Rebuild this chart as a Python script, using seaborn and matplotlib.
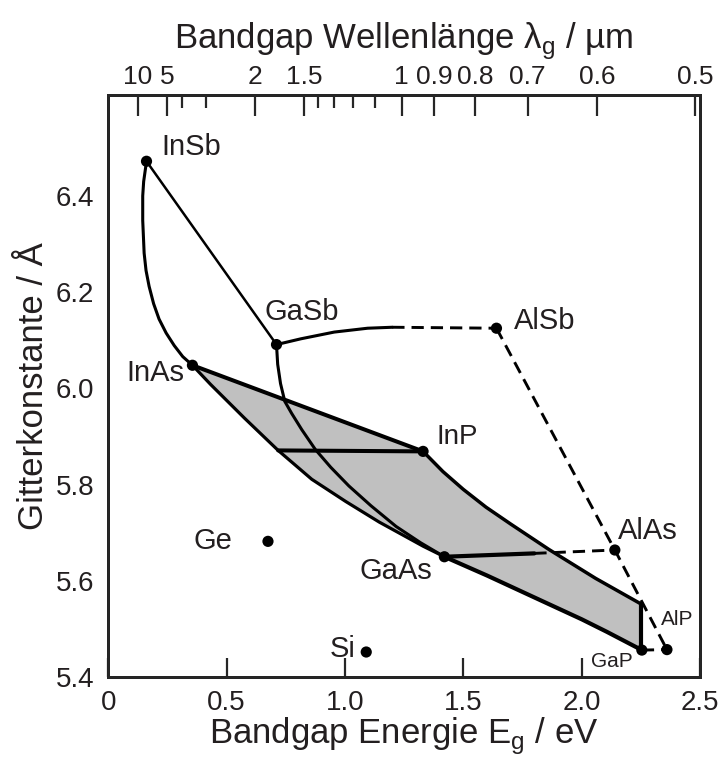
import numpy as np
import matplotlib
matplotlib.use("Agg")
import matplotlib.pyplot as plt
import seaborn as sns

sns.set_style("white")
plt.rcParams['font.family'] = ['Liberation Sans', 'DejaVu Sans']
plt.rcParams['mathtext.fontset'] = 'custom'
plt.rcParams['mathtext.rm'] = 'Liberation Sans'

# Verbindungen: Bandgap (eV) und Gitterkonstante (Angstrom)
names = ['InSb', 'GaSb', 'AlSb', 'InAs', 'InP', 'GaAs', 'AlAs', 'GaP', 'AlP', 'Ge', 'Si']
energy = [0.162, 0.711, 1.64, 0.356, 1.33, 1.42, 2.14, 2.254, 2.36, 0.675, 1.09]
lattice = [6.472, 6.091, 6.125, 6.048, 5.869, 5.65, 5.664, 5.456, 5.457, 5.682, 5.452]

# Beschriftungen (x, y, ha, Schriftgroesse)
label_x = [0.223, 0.659, 1.715, 0.321, 1.386, 1.063, 2.153, 2.04, 2.334, 0.361, 1.046]
label_y = [6.502, 6.159, 6.141, 6.031, 5.898, 5.621, 5.704, 5.432, 5.52, 5.683, 5.459]
label_ha = ['left', 'left', 'left', 'right', 'left', 'left', 'left', 'left', 'left', 'left', 'right']
label_fs = [21, 21, 21, 21, 20, 21, 21, 15, 15, 21, 21]

# Kurven zwischen den Verbindungen
insb_gasb_x = [0.162, 0.711]
insb_gasb_y = [6.472, 6.091]

insb_inas_x = [0.162, 0.150, 0.146, 0.146, 0.152, 0.160, 0.173, 0.192, 0.215, 0.245, 0.279, 0.315, 0.356]
insb_inas_y = [6.472, 6.43, 6.40, 6.349, 6.281, 6.245, 6.212, 6.176, 6.144, 6.115, 6.089, 6.066, 6.048]

gasb_alsb_x = [0.711, 0.814, 0.955, 1.096, 1.2]
gasb_alsb_y = [6.091, 6.103, 6.117, 6.125, 6.127]
gasb_alsb_dash_x = [1.2, 1.64]
gasb_alsb_dash_y = [6.127, 6.125]

gasb_gaas_x = [0.711, 0.716, 0.728, 0.746, 0.775, 0.818, 0.875, 0.94, 1.017, 1.11, 1.216, 1.32, 1.42]
gasb_gaas_y = [6.091, 6.05, 6.01, 5.973, 5.948, 5.914, 5.873, 5.836, 5.797, 5.756, 5.713, 5.679, 5.65]

inas_gaas_x = [0.356, 0.433, 0.576, 0.718, 0.860, 1.003, 1.145, 1.245, 1.33, 1.42]
inas_gaas_y = [6.048, 6.008, 5.938, 5.871, 5.811, 5.765, 5.722, 5.695, 5.672, 5.65]

inas_inp_x = [0.356, 1.33]
inas_inp_y = [6.048, 5.869]

horiz_x = [0.718, 1.33]
horiz_y = [5.871, 5.869]

upper_x = [1.33, 1.414, 1.50, 1.596, 1.70, 1.862, 2.059, 2.25]
upper_y = [5.869, 5.827, 5.790, 5.753, 5.718, 5.665, 5.605, 5.552]

vert_x = [2.25, 2.25]
vert_y = [5.552, 5.456]

lower_x = [1.42, 1.6, 1.824, 2.0, 2.106, 2.254]
lower_y = [5.65, 5.611, 5.560, 5.52, 5.494, 5.456]

gaas_alas_x = [1.42, 1.8]
gaas_alas_y = [5.65, 5.657]
gaas_alas_dash_x = [1.8, 2.14]
gaas_alas_dash_y = [5.657, 5.664]

al_dash_x = [1.64, 2.14, 2.36]
al_dash_y = [6.125, 5.664, 5.457]

gap_alp_x = [2.254, 2.36]
gap_alp_y = [5.456, 5.457]

# Wellenlaengen fuer obere Achse (um)
wl_major = [10, 5, 2, 1.5, 1, 0.9, 0.8, 0.7, 0.6, 0.5]
wl_minor = [4, 3, 1.4, 1.3, 1.2, 1.1]

fig = plt.figure(figsize=(7.21, 7.59), dpi=100)
ax = fig.add_axes([0.150, 0.108, 0.821, 0.767])

txt = '#231f20'

# grauer Bereich
poly_x = np.concatenate([inas_inp_x, upper_x[1:], [vert_x[1]], lower_x[::-1][1:], inas_gaas_x[::-1][1:]])
poly_y = np.concatenate([inas_inp_y, upper_y[1:], [vert_y[1]], lower_y[::-1][1:], inas_gaas_y[::-1][1:]])
ax.fill(poly_x, poly_y, color='#c0c0c0', lw=0, zorder=1)


def line(xs, ys, lw, dashed=False):
    ls = (0, (4.2, 2.4)) if dashed else '-'
    sns.lineplot(x=xs, y=ys, sort=False, estimator=None, color='black',
                 lw=lw, linestyle=ls, ax=ax, zorder=3)


line(insb_gasb_x, insb_gasb_y, 1.8)
line(insb_inas_x, insb_inas_y, 2.2)
line(gasb_alsb_x, gasb_alsb_y, 2.2)
line(gasb_alsb_dash_x, gasb_alsb_dash_y, 2.1, dashed=True)
line(gasb_gaas_x, gasb_gaas_y, 2.2)
line(inas_gaas_x, inas_gaas_y, 2.3)
line(inas_inp_x, inas_inp_y, 2.9)
line(horiz_x, horiz_y, 2.9)
line(upper_x, upper_y, 2.5)
line(vert_x, vert_y, 3.0)
line(lower_x, lower_y, 3.0)
line(gaas_alas_x, gaas_alas_y, 3.0)
line(gaas_alas_dash_x, gaas_alas_dash_y, 2.1, dashed=True)
line(al_dash_x, al_dash_y, 2.1, dashed=True)
line(gap_alp_x, gap_alp_y, 2.1, dashed=True)

sns.scatterplot(x=energy, y=lattice, color='black', s=65, edgecolor='none', ax=ax, zorder=5)

for n, lx, ly, ha, fs in zip(names, label_x, label_y, label_ha, label_fs):
    ax.text(lx, ly, n, ha=ha, va='center', fontsize=fs, color=txt)

ax.set_xlim(0, 2.5)
ax.set_ylim(5.4, 6.61)
ax.set_xticks([0, 0.5, 1.0, 1.5, 2.0, 2.5])
ax.set_xticklabels(['0', '0.5', '1.0', '1.5', '2.0', '2.5'])
ax.set_yticks([5.4, 5.6, 5.8, 6.0, 6.2, 6.4])
ax.set_yticklabels(['5.4', '5.6', '5.8', '6.0', '6.2', '6.4'])
ax.tick_params(axis='x', direction='in', length=14, width=1.6, pad=9, labelsize=20, labelcolor=txt)
ax.tick_params(axis='y', direction='in', length=14, width=1.6, pad=10, labelsize=20, labelcolor=txt)
for sp in ax.spines.values():
    sp.set_linewidth(2.0)
    sp.set_color('black')

ax.set_xlabel(r'Bandgap Energie E$_\mathregular{g}$ / eV', fontsize=25, color=txt, labelpad=0)
ax.set_ylabel('Gitterkonstante / Å', fontsize=25, color=txt, labelpad=4)

# obere Achse: Wellenlaenge
ax2 = ax.twiny()
ax2.set_xlim(ax.get_xlim())
ax2.set_xticks([1.24 / w for w in wl_major])
ax2.set_xticklabels([f'{w:g}' for w in wl_major])
ax2.set_xticks([1.24 / w for w in wl_minor], minor=True)
ax2.tick_params(axis='x', which='major', direction='in', length=15, width=1.6, pad=4, labelsize=19, labelcolor=txt)
ax2.tick_params(axis='x', which='minor', direction='in', length=9, width=1.6)
ax2.set_xlabel(r'Bandgap Wellenlänge λ$_\mathregular{g}$ / µm', fontsize=25, color=txt, labelpad=12)
for sp in ax2.spines.values():
    sp.set_linewidth(2.0)

fig.savefig('out.png', dpi=100)
